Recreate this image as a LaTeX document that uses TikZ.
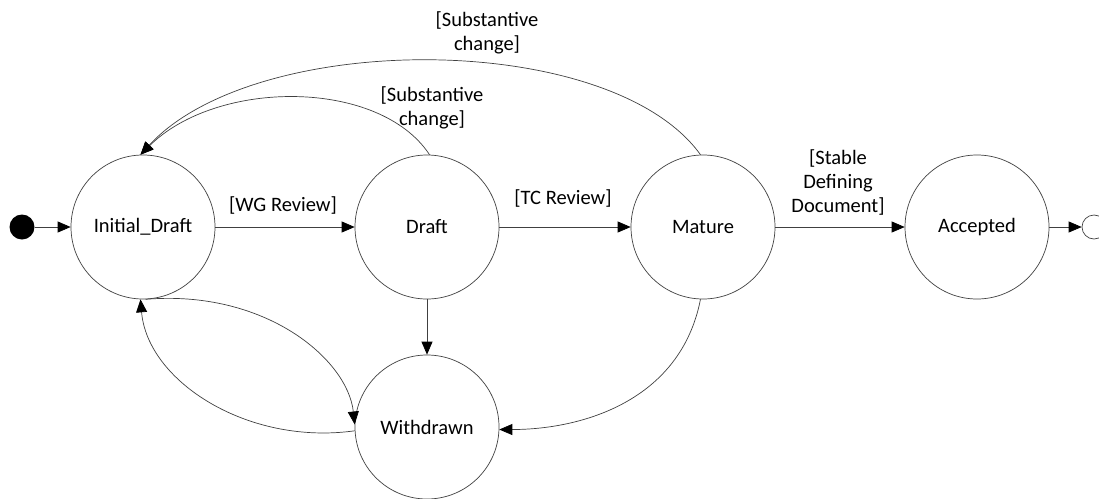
\documentclass[tikz,border=0pt]{standalone}
\usepackage{fontspec}
\setmainfont{Carlito}
\usetikzlibrary{arrows.meta}
\begin{document}
\begin{tikzpicture}[x=1pt,y=-1pt,
  state/.style={circle,draw=black!75,line width=0.7pt,minimum size=144pt,inner sep=0pt,font=\fontsize{20.5}{24}\selectfont},
  lbl/.style={align=center,font=\fontsize{20.5}{24}\selectfont},
  conn/.style={draw=black!75,line width=0.7pt,-{Triangle[length=13pt,width=11pt,fill=black,color=black]}}]
\useasboundingbox (0,0) rectangle (1099,498);
\node[circle,fill=black,minimum size=25pt,inner sep=0pt] (start) at (22,227) {};
\node[state] (init) at (143,227) {Initial\_Draft};
\node[state] (draft) at (427,227) {Draft};
\node[state] (mature) at (703,227) {Mature};
\node[state] (acc) at (977,227) {Accepted};
\node[state] (wd) at (427,427) {Withdrawn};
\node[circle,draw=black!75,line width=0.7pt,minimum size=24pt,inner sep=0pt] (end) at (1094,227) {};

\draw[conn] (start) -- (init);
\draw[conn] (init) -- (draft);
\draw[conn] (draft) -- (mature);
\draw[conn] (mature) -- (acc);
\draw[conn] (acc) -- (end);
\draw[conn] (draft) -- (wd);
\draw[conn] (draft.88) .. controls +(-50,-76) and +(77,-76) .. (init.92);
\draw[conn] (mature.92) .. controls +(-90,-125) and +(115,-125) .. (init.92);
\draw[conn] (mature.-92) .. controls +(-20,102) and +(82,0) .. (wd.-2);
\draw[conn] (init.-88) .. controls +(120,-10) and +(-7,-65) .. (wd.178);
\draw[conn] (wd.183) .. controls +(-107,15) and +(7,82) .. (init.-92);

\node[lbl] (l1) at (283,205) {[WG Review]};
\node[lbl] (l2) at (563,198) {[TC Review]};
\node[lbl] (l3) at (838,182) {[Stable\\Defining\\Document]};
\node[lbl] (l4) at (487,33) {[Substantive\\change]};
\node[lbl] (l5) at (432,108) {[Substantive\\change]};
\end{tikzpicture}
\end{document}
